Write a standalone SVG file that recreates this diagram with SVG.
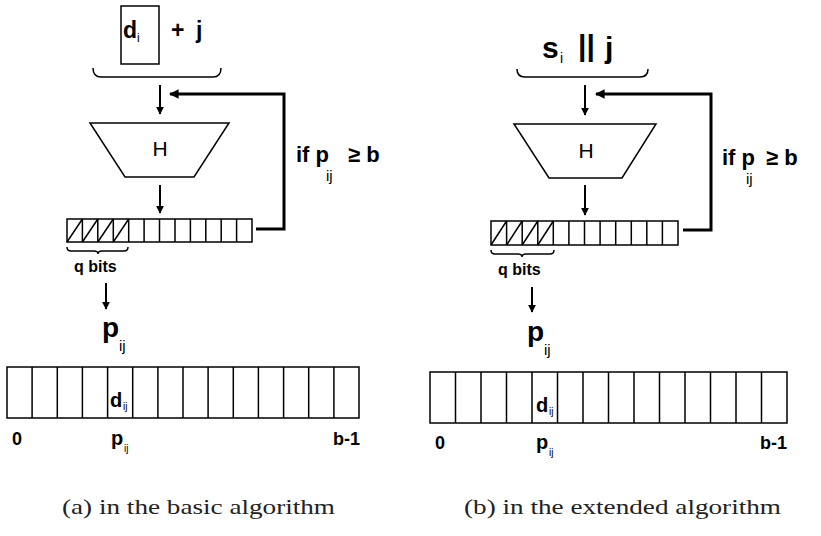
<svg xmlns="http://www.w3.org/2000/svg" width="821" height="536" viewBox="0 0 821 536">
<style>
.s{fill:none;stroke:#000;stroke-width:1.5}
.a{fill:none;stroke:#000;stroke-width:2}
.fb{fill:none;stroke:#000;stroke-width:3}
.b{font-family:"Liberation Sans",Arial,sans-serif;font-weight:bold;fill:#000}
.r{font-family:"Liberation Sans",Arial,sans-serif;fill:#000}
.cap{font-family:"Liberation Serif","Times New Roman",serif;font-size:22px;fill:#222}
</style>
<defs>
<marker id="ah" viewBox="0 0 10 10" refX="9" refY="5" markerWidth="4" markerHeight="4" orient="auto" markerUnits="strokeWidth">
<path d="M0,0 L10,5 L0,10 z" fill="#000"/>
</marker>
<marker id="ah2" viewBox="0 0 10 10" refX="9" refY="5" markerWidth="3.2" markerHeight="3.2" orient="auto" markerUnits="strokeWidth">
<path d="M0,0 L10,5 L0,10 z" fill="#000"/>
</marker>
</defs>
<rect width="821" height="536" fill="#fff"/>

<!-- Panel (a) -->
<g id="a-input">
<rect class="s" x="121" y="6" width="38" height="58"/>
<text class="b" x="123" y="38" font-size="23">d</text>
<text class="r" x="137" y="42" font-size="12">i</text>
<text class="b" x="171" y="38" font-size="23">+</text>
<text class="b" x="196" y="38" font-size="23">j</text>
<path class="s" d="M93,68 Q93,77 101,77 L213,77 Q221,77 221,68"/>
</g>
<g id="a-hash">
<polygon class="s" points="90,123 229,123 194,177 125,177"/>
<text class="r" x="160" y="156" font-size="21" text-anchor="middle">H</text>
</g>
<g id="a-register">
<rect class="s" x="67" y="219" width="185" height="23"/>
<path class="s" d="M82.4,219V242M97.8,219V242M113.3,219V242M128.7,219V242M144.1,219V242M159.5,219V242M175,219V242M190.4,219V242M205.8,219V242M221.2,219V242M236.6,219V242"/>
<path class="s" d="M67,242L82.4,219M82.4,242L97.8,219M97.8,242L113.3,219M113.3,242L128.7,219"/>
<path class="s" stroke-width="1" d="M67,247 Q67,251 71,251 L94,251 Q98,251 98,254 Q98,251 102,251 L124,251 Q128,251 128,247"/>
<text class="b" x="74" y="272" font-size="16">q bits</text>
</g>
<g id="a-cond">
<text class="b" x="296" y="162" font-size="22">if p</text>
<text class="r" x="326" y="181" font-size="15">ij</text>
<text class="b" x="348" y="162" font-size="22">≥ b</text>
</g>
<g id="a-pij">
<text class="b" x="102" y="337" font-size="28">p</text>
<text class="r" x="119" y="351" font-size="15">ij</text>
</g>
<g id="a-array">
<rect class="s" x="7" y="367" width="352" height="51"/>
<path class="s" d="M32.1,367V418M57.3,367V418M82.4,367V418M107.6,367V418M132.7,367V418M157.9,367V418M183,367V418M208.1,367V418M233.3,367V418M258.4,367V418M283.6,367V418M308.7,367V418M333.9,367V418"/>
<text class="b" x="110" y="407" font-size="20">d</text>
<text class="r" x="123" y="410" font-size="10">ij</text>
<text class="b" x="12" y="445" font-size="18">0</text>
<text class="b" x="111" y="445" font-size="20">p</text>
<text class="r" x="124" y="452" font-size="10">ij</text>
<text class="b" x="333" y="445" font-size="18">b-1</text>
</g>

<!-- Panel (b) -->
<g id="b-input">
<text class="b" x="542" y="58" font-size="30">s</text>
<text class="r" x="560" y="63" font-size="14">i</text>
<text class="b" x="578" y="56" font-size="30">||</text>
<text class="b" x="605" y="58" font-size="30">j</text>
<path class="s" d="M517,69 Q517,77 525,77 L640,77 Q648,77 648,69"/>
</g>
<g id="b-hash">
<polygon class="s" points="514,124 656,124 622,178 549,178"/>
<text class="r" x="586" y="158" font-size="21" text-anchor="middle">H</text>
</g>
<g id="b-register">
<rect class="s" x="491" y="221" width="187" height="24"/>
<path class="s" d="M506.6,221V245M522.2,221V245M537.8,221V245M553.3,221V245M568.9,221V245M584.5,221V245M600.1,221V245M615.7,221V245M631.3,221V245M646.8,221V245M662.4,221V245"/>
<path class="s" d="M491,245L506.6,221M506.6,245L522.2,221M522.2,245L537.8,221M537.8,245L553.3,221"/>
<path class="s" stroke-width="1" d="M491,250 Q491,254 495,254 L518,254 Q522,254 522,257 Q522,254 526,254 L550,254 Q554,254 554,250"/>
<text class="b" x="498" y="275" font-size="16">q bits</text>
</g>
<g id="b-cond">
<text class="b" x="722" y="165" font-size="22">if p</text>
<text class="r" x="746" y="184" font-size="15">ij</text>
<text class="b" x="766" y="165" font-size="22">≥ b</text>
</g>
<g id="b-pij">
<text class="b" x="527" y="341" font-size="28">p</text>
<text class="r" x="544" y="355" font-size="15">ij</text>
</g>
<g id="b-array">
<rect class="s" x="430" y="372" width="357" height="51"/>
<path class="s" d="M455.5,372V423M481,372V423M506.5,372V423M532,372V423M557.5,372V423M583,372V423M608.5,372V423M634,372V423M659.5,372V423M685,372V423M710.5,372V423M736,372V423M761.5,372V423"/>
<text class="b" x="536" y="412" font-size="20">d</text>
<text class="r" x="549" y="415" font-size="10">ij</text>
<text class="b" x="435" y="449" font-size="18">0</text>
<text class="b" x="536" y="449" font-size="20">p</text>
<text class="r" x="549" y="456" font-size="10">ij</text>
<text class="b" x="760" y="449" font-size="18">b-1</text>
</g>

<g id="connectors">
<line class="a" x1="160" y1="85" x2="160" y2="114" marker-end="url(#ah)"/>
<line class="a" x1="160" y1="185" x2="160" y2="213" marker-end="url(#ah)"/>
<polyline class="fb" points="256,229 284,229 284,94 170,94" marker-end="url(#ah2)"/>
<line class="a" x1="106" y1="283" x2="106" y2="309" marker-end="url(#ah)"/>
<line class="a" x1="585" y1="85" x2="585" y2="115" marker-end="url(#ah)"/>
<line class="a" x1="585" y1="185" x2="585" y2="215" marker-end="url(#ah)"/>
<polyline class="fb" points="683,230 711,230 711,94 596,94" marker-end="url(#ah2)"/>
<line class="a" x1="532" y1="287" x2="532" y2="312" marker-end="url(#ah)"/>
</g>

<text class="cap" x="62" y="514" textLength="273" lengthAdjust="spacingAndGlyphs">(a) in the basic algorithm</text>
<text class="cap" x="464" y="514" textLength="317" lengthAdjust="spacingAndGlyphs">(b) in the extended algorithm</text>
</svg>
